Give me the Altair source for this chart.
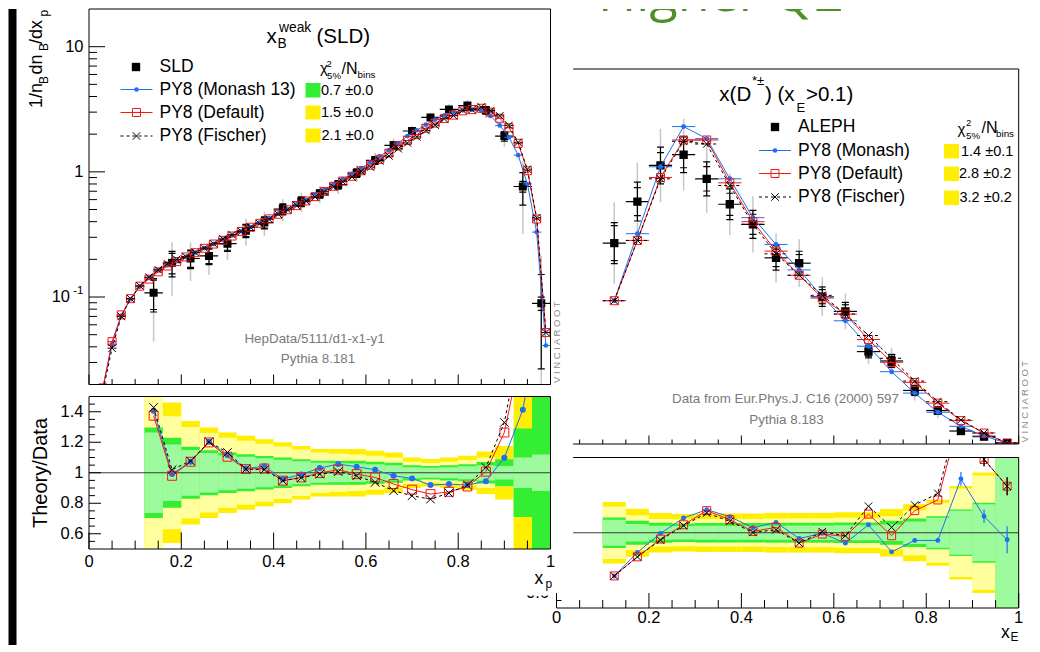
import altair as alt
import pandas as pd

FONT = "Liberation Sans"
BLUE = "#1f6ff2"
RED = "#ff1414"
GRAYERR = "#c6c6c6"
LGREEN = "#9dfb9d"
BGREEN = "#33ee33"
LYELLOW = "#ffff9f"
BYELLOW = "#ffee00"
FOOT = "#7a7a7a"
XSHAPE = "M-1,-1L1,1M-1,1L1,-1"

# ---------------- left figure: x_B^weak (SLD) ----------------
mc_x_L = [0.01, 0.03, 0.05, 0.07, 0.09, 0.11, 0.13, 0.15, 0.17, 0.19,
          0.21, 0.23, 0.25, 0.27, 0.29, 0.31, 0.33, 0.35, 0.37, 0.39,
          0.41, 0.43, 0.45, 0.47, 0.49, 0.51, 0.53, 0.55, 0.57, 0.59,
          0.61, 0.63, 0.65, 0.67, 0.69, 0.71, 0.73, 0.75, 0.77, 0.79,
          0.81, 0.83, 0.85, 0.87, 0.89, 0.91, 0.93, 0.95, 0.97, 0.99]
mon_L = [0.004, 0.0186, 0.042, 0.071, 0.096, 0.121, 0.142, 0.163, 0.179, 0.194,
         0.209, 0.226, 0.246, 0.266, 0.287, 0.310, 0.335, 0.362, 0.393, 0.427,
         0.463, 0.503, 0.548, 0.598, 0.655, 0.720, 0.795, 0.875, 0.965, 1.07,
         1.19, 1.33, 1.49, 1.70, 1.93, 2.15, 2.38, 2.62, 2.83, 3.00,
         3.10, 3.14, 3.08, 2.80, 2.35, 1.89, 1.36, 0.80, 0.33, 0.041]
def_L = [0.004, 0.0188, 0.044, 0.072, 0.097, 0.122, 0.139, 0.159, 0.177, 0.192,
         0.209, 0.226, 0.245, 0.265, 0.284, 0.307, 0.334, 0.361, 0.388, 0.421,
         0.458, 0.498, 0.537, 0.586, 0.634, 0.697, 0.767, 0.844, 0.921, 1.02,
         1.13, 1.26, 1.41, 1.61, 1.78, 1.98, 2.23, 2.45, 2.67, 2.84,
         3.07, 3.14, 3.22, 3.00, 2.68, 2.25, 1.69, 1.02, 0.42, 0.052]
fis_L = [0.0035, 0.0175, 0.039, 0.070, 0.097, 0.123, 0.144, 0.165, 0.184, 0.200,
         0.210, 0.227, 0.246, 0.266, 0.291, 0.315, 0.334, 0.361, 0.385, 0.418,
         0.458, 0.498, 0.536, 0.585, 0.629, 0.692, 0.758, 0.834, 0.910, 1.01,
         1.09, 1.22, 1.34, 1.53, 1.70, 1.90, 2.14, 2.36, 2.65, 2.81,
         3.10, 3.14, 3.30, 3.07, 2.80, 2.35, 1.72, 1.05, 0.43, 0.052]

dat_x_L = [0.14, 0.18, 0.22, 0.26, 0.30, 0.34, 0.38, 0.42, 0.46, 0.50, 0.54,
           0.58, 0.62, 0.66, 0.70, 0.74, 0.78, 0.82, 0.86, 0.90, 0.94, 0.98]
dat_L = [0.108, 0.188, 0.203, 0.213, 0.267, 0.339, 0.393, 0.504, 0.579, 0.667, 0.790,
         0.979, 1.235, 1.628, 2.12, 2.72, 3.15, 3.39, 3.11, 1.93, 0.764, 0.089]
band_a_L = [0.264, 0.185, 0.150, 0.130, 0.115, 0.105, 0.095, 0.086, 0.076, 0.066, 0.062,
            0.060, 0.056, 0.050, 0.036, 0.032, 0.036, 0.042, 0.050, 0.045, 0.10, 0.12]
band_b_L = [0.297, 0.230, 0.170, 0.148, 0.132, 0.121, 0.110, 0.100, 0.088, 0.078, 0.078,
            0.078, 0.072, 0.066, 0.050, 0.045, 0.050, 0.056, 0.070, 0.088, 0.29, 0.70]
r_mon_L = [1.407, 0.991, 1.072, 1.203, 1.116, 1.028, 1.042, 0.958, 0.989, 1.031, 1.057,
           1.039, 1.020, 0.980, 0.963, 0.919, 0.926, 0.919, 0.945, 1.098, 1.413, 2.09]
r_def_L = [1.374, 0.980, 1.072, 1.199, 1.105, 1.024, 1.028, 0.948, 0.969, 0.998, 1.020,
           0.991, 0.969, 0.926, 0.889, 0.860, 0.875, 0.910, 1.007, 1.264, 1.85, 2.65]
r_fis_L = [1.428, 1.020, 1.077, 1.203, 1.133, 1.024, 1.020, 0.948, 0.967, 0.991, 1.007,
           0.980, 0.937, 0.882, 0.849, 0.827, 0.867, 0.919, 1.035, 1.330, 1.95, 2.70]

# ---------------- right figure: x(D*) ALEPH ----------------
x_R = [0.125, 0.175, 0.225, 0.275, 0.325, 0.375, 0.425, 0.475, 0.525,
       0.575, 0.625, 0.675, 0.725, 0.775, 0.825, 0.875, 0.925, 0.975]
dat_R = [1.50, 1.81, 2.08, 2.16, 1.98, 1.79, 1.64, 1.39, 1.35,
         1.10, 0.99, 0.69, 0.62, 0.40, 0.25, 0.097, 0.055, 0.006]
mon_R = [1.07, 1.57, 2.07, 2.37, 2.28, 1.98, 1.69, 1.49, 1.30,
         1.10, 0.92, 0.73, 0.54, 0.38, 0.237, 0.132, 0.060, 0.0057]
def_R = [1.07, 1.52, 1.99, 2.27, 2.27, 1.95, 1.66, 1.44, 1.26,
         1.09, 0.97, 0.78, 0.61, 0.46, 0.305, 0.175, 0.082, 0.0079]
fis_R = [1.07, 1.52, 1.98, 2.26, 2.24, 1.93, 1.64, 1.42, 1.26,
         1.11, 0.97, 0.81, 0.64, 0.47, 0.316, 0.18, 0.082, 0.0079]
band_a_R = [0.087, 0.058, 0.046, 0.045, 0.046, 0.046, 0.046, 0.047, 0.048,
            0.048, 0.050, 0.050, 0.055, 0.075, 0.100, 0.147, 0.190, 0.600]
band_b_R = [0.102, 0.080, 0.066, 0.062, 0.064, 0.064, 0.064, 0.066, 0.066,
            0.066, 0.068, 0.068, 0.079, 0.095, 0.110, 0.155, 0.200, 0.620]
r_mon_R = [0.713, 0.869, 0.996, 1.098, 1.153, 1.107, 1.033, 1.069, 0.962,
           0.996, 0.931, 1.053, 0.873, 0.949, 0.949, 1.358, 1.109, 0.953]
r_def_R = [0.713, 0.840, 0.958, 1.053, 1.147, 1.087, 1.009, 1.036, 0.931,
           0.991, 0.976, 1.124, 0.980, 1.147, 1.218, 1.80, 1.487, 1.309]
r_fis_R = [0.713, 0.840, 0.951, 1.047, 1.131, 1.076, 1.002, 1.020, 0.931,
           1.007, 0.980, 1.176, 1.036, 1.184, 1.262, 1.85, 1.487, 1.309]
e_mon_R = [0, 0, 0, 0, 0, 0, 0, 0, 0, 0, 0, 0, 0, 0, 0, 0.045, 0.045, 0.09]
e_def_R = [0, 0, 0, 0, 0, 0, 0, 0, 0, 0, 0, 0, 0, 0, 0, 0, 0.045, 0.06]
e_fis_R = [0, 0, 0, 0, 0, 0, 0, 0, 0, 0, 0, 0, 0, 0, 0, 0, 0.045, 0.06]

# ---------------- axis ticks / labels ----------------
x_major = [0, 0.2, 0.4, 0.6, 0.8, 1.0]
x_labels = ["0", "0.2", "0.4", "0.6", "0.8", "1"]
x_minor = [0.05, 0.1, 0.15, 0.25, 0.3, 0.35, 0.45, 0.5, 0.55, 0.65, 0.7, 0.75, 0.85, 0.9, 0.95]
log_major = [0.1, 1, 10]
log_minor = [0.03, 0.04, 0.05, 0.06, 0.07, 0.08, 0.09, 0.2, 0.3, 0.4, 0.5, 0.6, 0.7, 0.8, 0.9,
             2, 3, 4, 5, 6, 7, 8, 9]
r_major = [0.6, 0.8, 1.0, 1.2, 1.4]
r_labels = ["0.6", "0.8", "1", "1.2", "1.4"]
r_minor = [0.55, 0.65, 0.7, 0.75, 0.85, 0.9, 0.95, 1.05, 1.1, 1.15, 1.25, 1.3, 1.35, 1.45]

ONE = pd.DataFrame({"k": [0]})

# two views: left (origin page 88.5, 8) and right (origin page 555.5, 8)
OL = (88.5, 8.0)
OR = (555.5, 8.0)
WL, HL = 461.5, 540.0
WR, HR = 462.2, 599.0

XS_L = alt.Scale(domain=[0, 1], range=[0, WL], nice=False, zero=False)
YS_LT = alt.Scale(type="log", domain=[0.02, 20], range=[375.5, 0], nice=False)
YS_LR = alt.Scale(domain=[0.5, 1.5], range=[540, 387.5], nice=False, zero=False)
XS_R = alt.Scale(domain=[0, 1], range=[0, WR], nice=False, zero=False)
YS_RT = alt.Scale(domain=[0, 2.8], range=[435, 60], nice=False, zero=False)
YS_RR = alt.Scale(domain=[0.5, 1.5], range=[599, 448.5], nice=False, zero=False)

CLIP_LT = {"expr": "pathShape('M0,0H461.5V375.5H0Z')"}
CLIP_LR = {"expr": "pathShape('M0,387.5H461.5V540H0Z')"}
CLIP_RT = {"expr": "pathShape('M0,60H462.2V435H0Z')"}
CLIP_RR = {"expr": "pathShape('M0,448.5H462.2V599H0Z')"}
CLIP_RR_LAB = {"expr": "pathShape('M-40,586.5H0V605H-40Z')"}


def qx(f, s):
    return alt.X(f, type="quantitative", scale=s, axis=None)


def qy(f, s):
    return alt.Y(f, type="quantitative", scale=s, axis=None)


def dxd(v, s):
    return alt.XDatum(v, type="quantitative", scale=s, axis=None)


def dyd(v, s):
    return alt.YDatum(v, type="quantitative", scale=s, axis=None)


def txt(o, text, px, py, size=17.5, align="left", baseline="middle", color="black",
        angle=0, font=FONT, clip=False):
    return alt.Chart(ONE).mark_text(
        text=text, align=align, baseline=baseline, fontSize=size, color=color,
        angle=angle, font=font, clip=clip
    ).encode(x=alt.value(px - o[0]), y=alt.value(py - o[1]))


def sym(o, px, py, shape, size, color, filled, sw=1.0):
    return alt.Chart(ONE).mark_point(
        shape=shape, size=size, color=color, filled=filled, strokeWidth=sw, opacity=1
    ).encode(x=alt.value(px - o[0]), y=alt.value(py - o[1]))


def seg(o, x0, x1, y0, y1, color="black", sw=1.0, dash=None):
    kw = dict(color=color, strokeWidth=sw)
    if dash:
        kw["strokeDash"] = dash
    return alt.Chart(ONE).mark_rule(**kw).encode(
        x=alt.value(x0 - o[0]), x2=alt.value(x1 - o[0]),
        y=alt.value(y0 - o[1]), y2=alt.value(y1 - o[1]))


def box(o, x0, x1, y0, y1, color):
    return alt.Chart(ONE).mark_rect(color=color).encode(
        x=alt.value(x0 - o[0]), x2=alt.value(x1 - o[0]),
        y=alt.value(y0 - o[1]), y2=alt.value(y1 - o[1]))


def hline(x0, x1, y, xs, ys, color="black", sw=1.0):
    return alt.Chart(ONE).mark_rule(color=color, strokeWidth=sw).encode(
        x=dxd(x0, xs), x2=alt.X2Datum(x1), y=dyd(y, ys))


def vline(x, y0, y1, xs, ys, color="black", sw=1.0):
    return alt.Chart(ONE).mark_rule(color=color, strokeWidth=sw).encode(
        x=dxd(x, xs), y=dyd(y0, ys), y2=alt.Y2Datum(y1))


def ticks_bottom(vals, xs, ys, ybot, L):
    df = pd.DataFrame({"t": vals})
    return alt.Chart(df).mark_tick(
        orient="vertical", size=L, thickness=1, yOffset=-L / 2, color="black", opacity=1
    ).encode(x=qx("t", xs), y=dyd(ybot, ys))


def ticks_left(vals, xs, ys, xleft, L):
    df = pd.DataFrame({"t": vals})
    return alt.Chart(df).mark_tick(
        orient="horizontal", size=L, thickness=1, xOffset=L / 2, color="black", opacity=1
    ).encode(x=dxd(xleft, xs), y=qy("t", ys))


def data_layers(x, v, a, b, hw, xs, ys, clip, log=False, msize=60):
    df = pd.DataFrame({"x": x, "v": v, "a": a, "b": b})
    df["xl"] = df["x"] - hw
    df["xh"] = df["x"] + hw
    df["lo2"] = df["v"] * (1 - 2 * df["b"])
    df["hi2"] = df["v"] * (1 + 2 * df["b"])
    if log:
        df["lo2"] = df["lo2"].clip(lower=1e-4)
    df["lo1"] = df["v"] * (1 - df["b"])
    df["hi1"] = df["v"] * (1 + df["b"])
    caps = pd.DataFrame({
        "x": list(df["x"]) * 4,
        "y": list(df["v"] * (1 - df["a"])) + list(df["v"] * (1 + df["a"]))
        + list(df["lo1"]) + list(df["hi1"]),
    })
    caps = caps[caps["y"] > 0]
    return [
        alt.Chart(df).mark_rule(color=GRAYERR, strokeWidth=1.5, clip=clip).encode(
            x=qx("x", xs), y=qy("lo2", ys), y2=alt.Y2("hi2")),
        alt.Chart(df).mark_rule(color="black", strokeWidth=1.2, clip=clip).encode(
            x=qx("x", xs), y=qy("lo1", ys), y2=alt.Y2("hi1")),
        alt.Chart(df).mark_rule(color="black", strokeWidth=1.2, clip=clip).encode(
            x=qx("xl", xs), x2=alt.X2("xh"), y=qy("v", ys)),
        alt.Chart(caps).mark_tick(orient="horizontal", size=7, thickness=1.2, color="black",
                                  opacity=1, clip=clip).encode(x=qx("x", xs), y=qy("y", ys)),
        alt.Chart(df).mark_point(shape="square", filled=True, size=msize, color="black",
                                 opacity=1, clip=clip).encode(x=qx("x", xs), y=qy("v", ys)),
    ]


def mc_layers(x, v, xs, ys, clip, color, shape, size, filled, sw=1.0, dash=None, hw=None, err=None):
    df = pd.DataFrame({"x": x, "v": v})
    kw = dict(color=color, strokeWidth=1, clip=clip)
    if dash:
        kw["strokeDash"] = dash
    out = [alt.Chart(df).mark_line(**kw).encode(x=qx("x", xs), y=qy("v", ys))]
    if hw:
        df["xl"] = df["x"] - hw
        df["xh"] = df["x"] + hw
        out.append(alt.Chart(df).mark_rule(**kw).encode(
            x=qx("xl", xs), x2=alt.X2("xh"), y=qy("v", ys)))
    if err is not None:
        de = pd.DataFrame({"x": x, "v": v, "e": err})
        de = de[de["e"] > 0].copy()
        de["lo"] = de["v"] - de["e"]
        de["hi"] = de["v"] + de["e"]
        out.append(alt.Chart(de).mark_rule(color=color, strokeWidth=1.2, clip=clip).encode(
            x=qx("x", xs), y=qy("lo", ys), y2=alt.Y2("hi")))
    out.append(alt.Chart(df).mark_point(
        shape=shape, size=size, color=color, filled=filled, strokeWidth=sw, opacity=1, clip=clip
    ).encode(x=qx("x", xs), y=qy("v", ys)))
    return out


def band_layers(x, a, b, hw, xs, ys, clip):
    out = []
    for mult, key, color in [(2, "b", BYELLOW), (2, "a", LYELLOW), (1, "b", BGREEN), (1, "a", LGREEN)]:
        half = pd.Series(b if key == "b" else a) * mult
        df = pd.DataFrame({"lo": pd.Series(x) - hw, "hi": pd.Series(x) + hw,
                           "y0": 1 - half, "y1": 1 + half})
        out.append(alt.Chart(df).mark_rect(color=color, clip=clip, strokeWidth=0).encode(
            x=qx("lo", xs), x2=alt.X2("hi"), y=qy("y0", ys), y2=alt.Y2("y1")))
    return out


def labels_x(vals, labs, xs, ys, ybot, dy):
    df = pd.DataFrame({"v": vals, "lab": labs})
    return alt.Chart(df).mark_text(align="center", baseline="middle", dy=dy, fontSize=16.5,
                                   font=FONT, color="black").encode(
        x=qx("v", xs), y=dyd(ybot, ys), text="lab:N")


def labels_y(vals, labs, xs, ys, xleft, dx, dy=0, size=16.5, clip=False):
    df = pd.DataFrame({"v": vals, "lab": labs})
    return alt.Chart(df).mark_text(align="right", baseline="middle", dx=dx, dy=dy, fontSize=size,
                                   font=FONT, color="black", clip=clip).encode(
        x=dxd(xleft, xs), y=qy("v", ys), text="lab:N")


# ================= left top =================
LT = [box(OL, 8, 16, 8, 644, "black")]
LT += data_layers(dat_x_L, dat_L, band_a_L, band_b_L, 0.02, XS_L, YS_LT, CLIP_LT, log=True, msize=64)
LT += mc_layers(mc_x_L, mon_L, XS_L, YS_LT, CLIP_LT, BLUE, "circle", 22, True, hw=0.01)
LT += mc_layers(mc_x_L, def_L, XS_L, YS_LT, CLIP_LT, RED, "square", 64, False, hw=0.01)
LT += mc_layers(mc_x_L, fis_L, XS_L, YS_LT, CLIP_LT, "black", XSHAPE, 56, False, dash=[3, 3], hw=0.01)
LT += [
    hline(0, 1, 20, XS_L, YS_LT), hline(0, 1, 0.02, XS_L, YS_LT),
    vline(0, 0.02, 20, XS_L, YS_LT), vline(1, 0.02, 20, XS_L, YS_LT),
    ticks_bottom(x_major, XS_L, YS_LT, 0.02, 10), ticks_bottom(x_minor, XS_L, YS_LT, 0.02, 5.5),
    ticks_left(log_major, XS_L, YS_LT, 0, 16), ticks_left(log_minor, XS_L, YS_LT, 0, 8),
    labels_y([10, 1], ["10", "1"], XS_L, YS_LT, 0, -5.5),
    labels_y([0.1], ["10"], XS_L, YS_LT, 0, -19),
    labels_y([0.1], ["-1"], XS_L, YS_LT, 0, -5.5, dy=-6, size=11.5),
    # y title
    txt(OL, "1/n", 41.5, 107, size=18, angle=270, baseline="alphabetic"),
    txt(OL, "B", 47.5, 83, size=12, angle=270, baseline="alphabetic"),
    txt(OL, "dn", 41.5, 73.5, size=18, angle=270, baseline="alphabetic"),
    txt(OL, "B", 47.5, 50, size=12, angle=270, baseline="alphabetic"),
    txt(OL, "/dx", 41.5, 43, size=18, angle=270, baseline="alphabetic"),
    txt(OL, "p", 47.5, 15.5, size=12, angle=270, baseline="alphabetic"),
    # title
    txt(OL, "x", 266, 42, size=20.5, baseline="alphabetic"),
    txt(OL, "weak", 278.5, 31, size=13.8, baseline="alphabetic"),
    txt(OL, "B", 277, 46.5, size=13.8, baseline="alphabetic"),
    txt(OL, "(SLD)", 316, 42, size=20.5, baseline="alphabetic"),
    # legend
    sym(OL, 135.5, 66, "square", 70, "black", True),
    txt(OL, "SLD", 159, 66),
    seg(OL, 120, 152, 88.5, 88.5, BLUE),
    sym(OL, 136, 88.5, "circle", 22, BLUE, True),
    txt(OL, "PY8 (Monash 13)", 159, 88.5),
    seg(OL, 120, 152, 111.5, 111.5, RED),
    sym(OL, 136, 111.5, "square", 64, RED, False),
    txt(OL, "PY8 (Default)", 159, 111.5),
    seg(OL, 120, 152, 135, 135, "black", dash=[3, 3]),
    sym(OL, 136, 135, XSHAPE, 56, "black", False),
    txt(OL, "PY8 (Fischer)", 159, 135),
    # chi2 header
    txt(OL, "χ", 319.5, 72, size=15, baseline="alphabetic"),
    txt(OL, "2", 326, 66, size=9.5, baseline="alphabetic"),
    txt(OL, "5%", 326.5, 78, size=9.7, baseline="alphabetic"),
    txt(OL, "/N", 341, 73.3, size=16, baseline="alphabetic"),
    txt(OL, "bins", 357, 76.5, size=9.8, baseline="alphabetic"),
    box(OL, 305, 320, 82, 96.5, BGREEN),
    box(OL, 305, 320, 104.5, 118.5, BYELLOW),
    box(OL, 305, 320, 127.5, 141.5, BYELLOW),
    txt(OL, "0.7 ±0.0", 320.5, 89.5, size=14.5),
    txt(OL, "1.5 ±0.0", 320.5, 111.5, size=14.5),
    txt(OL, "2.1 ±0.0", 321, 134.5, size=14.5),
    # footnotes
    txt(OL, "HepData/5111/d1-x1-y1", 314, 337.5, size=13.4, align="center", color=FOOT),
    txt(OL, "Pythia 8.181", 317.5, 357.5, size=13.4, align="center", color=FOOT),
    txt(OL, "V I N C I A R O O T", 559, 382, size=9.5, angle=270, baseline="alphabetic", color="#8a8a8a"),
]

# ================= left ratio =================
LR = band_layers(dat_x_L, band_a_L, band_b_L, 0.02, XS_L, YS_LR, CLIP_LR)
LR += [hline(0, 1, 1.0, XS_L, YS_LR, color="#3a3a3a")]
LR += mc_layers(dat_x_L, r_mon_L, XS_L, YS_LR, CLIP_LR, BLUE, "circle", 36, True)
LR += mc_layers(dat_x_L, r_def_L, XS_L, YS_LR, CLIP_LR, RED, "square", 80, False)
LR += mc_layers(dat_x_L, r_fis_L, XS_L, YS_LR, CLIP_LR, "black", XSHAPE, 72, False, dash=[3, 3])
LR += [
    hline(0, 1, 1.5, XS_L, YS_LR), hline(0, 1, 0.5, XS_L, YS_LR),
    vline(0, 0.5, 1.5, XS_L, YS_LR), vline(1, 0.5, 1.5, XS_L, YS_LR),
    ticks_bottom(x_major, XS_L, YS_LR, 0.5, 16.5), ticks_bottom(x_minor, XS_L, YS_LR, 0.5, 8.5),
    ticks_left(r_major, XS_L, YS_LR, 0, 12), ticks_left(r_minor, XS_L, YS_LR, 0, 6),
    labels_x(x_major, x_labels, XS_L, YS_LR, 0.5, 12.5),
    labels_y(r_major, r_labels, XS_L, YS_LR, 0, -5.5),
    txt(OL, "Theory/Data", 40, 472, size=20, angle=270, align="center"),
    txt(OL, "x", 534, 583, size=17.5, baseline="alphabetic"),
    txt(OL, "p", 545, 586.5, size=12, baseline="alphabetic"),
]

# ================= right top =================
RT = [txt(OR, "Higher Q2", 597, 10, size=52, baseline="alphabetic", color="#4f8e2b",
          font="Open Sans", clip=True)]
RT += data_layers(x_R, dat_R, band_a_R, band_b_R, 0.025, XS_R, YS_RT, CLIP_RT, msize=70)
RT += mc_layers(x_R, mon_R, XS_R, YS_RT, CLIP_RT, BLUE, "circle", 24, True, hw=0.025)
RT += mc_layers(x_R, def_R, XS_R, YS_RT, CLIP_RT, RED, "square", 64, False, hw=0.025)
RT += mc_layers(x_R, fis_R, XS_R, YS_RT, CLIP_RT, "black", XSHAPE, 56, False, dash=[3, 3], hw=0.025)
RT += [
    hline(0.036, 1, 2.8, XS_R, YS_RT), hline(0.036, 1, 0, XS_R, YS_RT),
    vline(1, 0, 2.8, XS_R, YS_RT),
    ticks_bottom(x_major[1:], XS_R, YS_RT, 0, 8.5), ticks_bottom(x_minor, XS_R, YS_RT, 0, 4.5),
    # title
    txt(OR, "x(D", 718.3, 100, size=20.5, baseline="alphabetic"),
    txt(OR, "*±", 751, 84, size=13, baseline="alphabetic"),
    txt(OR, ") (x", 764, 100, size=20.5, baseline="alphabetic"),
    txt(OR, "E", 795.5, 111, size=13, baseline="alphabetic"),
    txt(OR, ">0.1)", 805, 100, size=20.5, baseline="alphabetic"),
    # legend
    sym(OR, 774, 126, "square", 70, "black", True),
    txt(OR, "ALEPH", 797, 126),
    seg(OR, 758, 790, 149.5, 149.5, BLUE),
    sym(OR, 774, 149.5, "circle", 22, BLUE, True),
    txt(OR, "PY8 (Monash)", 797, 149.5),
    seg(OR, 758, 790, 172.5, 172.5, RED),
    sym(OR, 774, 172.5, "square", 64, RED, False),
    txt(OR, "PY8 (Default)", 797, 172.5),
    seg(OR, 758, 790, 196, 196, "black", dash=[3, 3]),
    sym(OR, 774, 196, XSHAPE, 56, "black", False),
    txt(OR, "PY8 (Fischer)", 797, 196),
    # chi2
    txt(OR, "χ", 956.5, 133, size=15, baseline="alphabetic"),
    txt(OR, "2", 965, 125, size=9.5, baseline="alphabetic"),
    txt(OR, "5%", 965, 138, size=9.7, baseline="alphabetic"),
    txt(OR, "/N", 980.5, 131.7, size=16, baseline="alphabetic"),
    txt(OR, "bins", 995, 136, size=9.8, baseline="alphabetic"),
    box(OR, 943, 958, 143, 157.5, BYELLOW),
    box(OR, 943, 958, 165.5, 180, BYELLOW),
    box(OR, 943, 958, 189.5, 204, BYELLOW),
    txt(OR, "1.4 ±0.1", 960, 150.5, size=14.5),
    txt(OR, "2.8 ±0.2", 958, 173, size=14.5),
    txt(OR, "3.2 ±0.2", 958.5, 196.5, size=14.5),
    # footnotes
    txt(OR, "Data from Eur.Phys.J. C16 (2000) 597", 784.5, 397.5, size=13.4, align="center", color=FOOT),
    txt(OR, "Pythia 8.183", 785.5, 418.5, size=13.4, align="center", color=FOOT),
    txt(OR, "V I N C I A R O O T", 1027, 441.5, size=9.5, angle=270, baseline="alphabetic", color="#8a8a8a"),
]

# ================= right ratio =================
RR = band_layers(x_R, band_a_R, band_b_R, 0.025, XS_R, YS_RR, CLIP_RR)
RR += [hline(0.036, 1, 1.0, XS_R, YS_RR, color="#3a3a3a")]
RR += mc_layers(x_R, r_mon_R, XS_R, YS_RR, CLIP_RR, BLUE, "circle", 24, True, err=e_mon_R)
RR += mc_layers(x_R, r_def_R, XS_R, YS_RR, CLIP_RR, RED, "square", 64, False, err=e_def_R)
RR += mc_layers(x_R, r_fis_R, XS_R, YS_RR, CLIP_RR, "black", XSHAPE, 56, False, dash=[3, 3], err=e_fis_R)
RR += [
    hline(0.036, 1, 1.5, XS_R, YS_RR), hline(0, 1, 0.5, XS_R, YS_RR),
    vline(1, 0.5, 1.5, XS_R, YS_RR), vline(0, 0.5, 0.57, XS_R, YS_RR),
    ticks_left([0.55], XS_R, YS_RR, 0, 5),
    labels_y([0.6], ["0.6"], XS_R, YS_RR, 0, -7.5, clip=CLIP_RR_LAB),
    ticks_bottom(x_major, XS_R, YS_RR, 0.5, 15), ticks_bottom(x_minor, XS_R, YS_RR, 0.5, 8),
    labels_x(x_major, x_labels, XS_R, YS_RR, 0.5, 9.5),
    txt(OR, "x", 1000, 636.5, size=17.5, baseline="alphabetic"),
    txt(OR, "E", 1009.5, 639.5, size=12, baseline="alphabetic"),
]

left = alt.layer(alt.layer(*LT), alt.layer(*LR)).resolve_scale(y="independent").properties(
    width=WL, height=HL)
right = alt.layer(alt.layer(*RT), alt.layer(*RR)).resolve_scale(y="independent").properties(
    width=WR, height=HR)

chart = alt.hconcat(left, right, spacing=5.5, bounds="flush").properties(
    padding=0, background="white").configure_view(strokeWidth=0)

chart.save("out.html", embed_options={"renderer": "svg", "actions": False})
